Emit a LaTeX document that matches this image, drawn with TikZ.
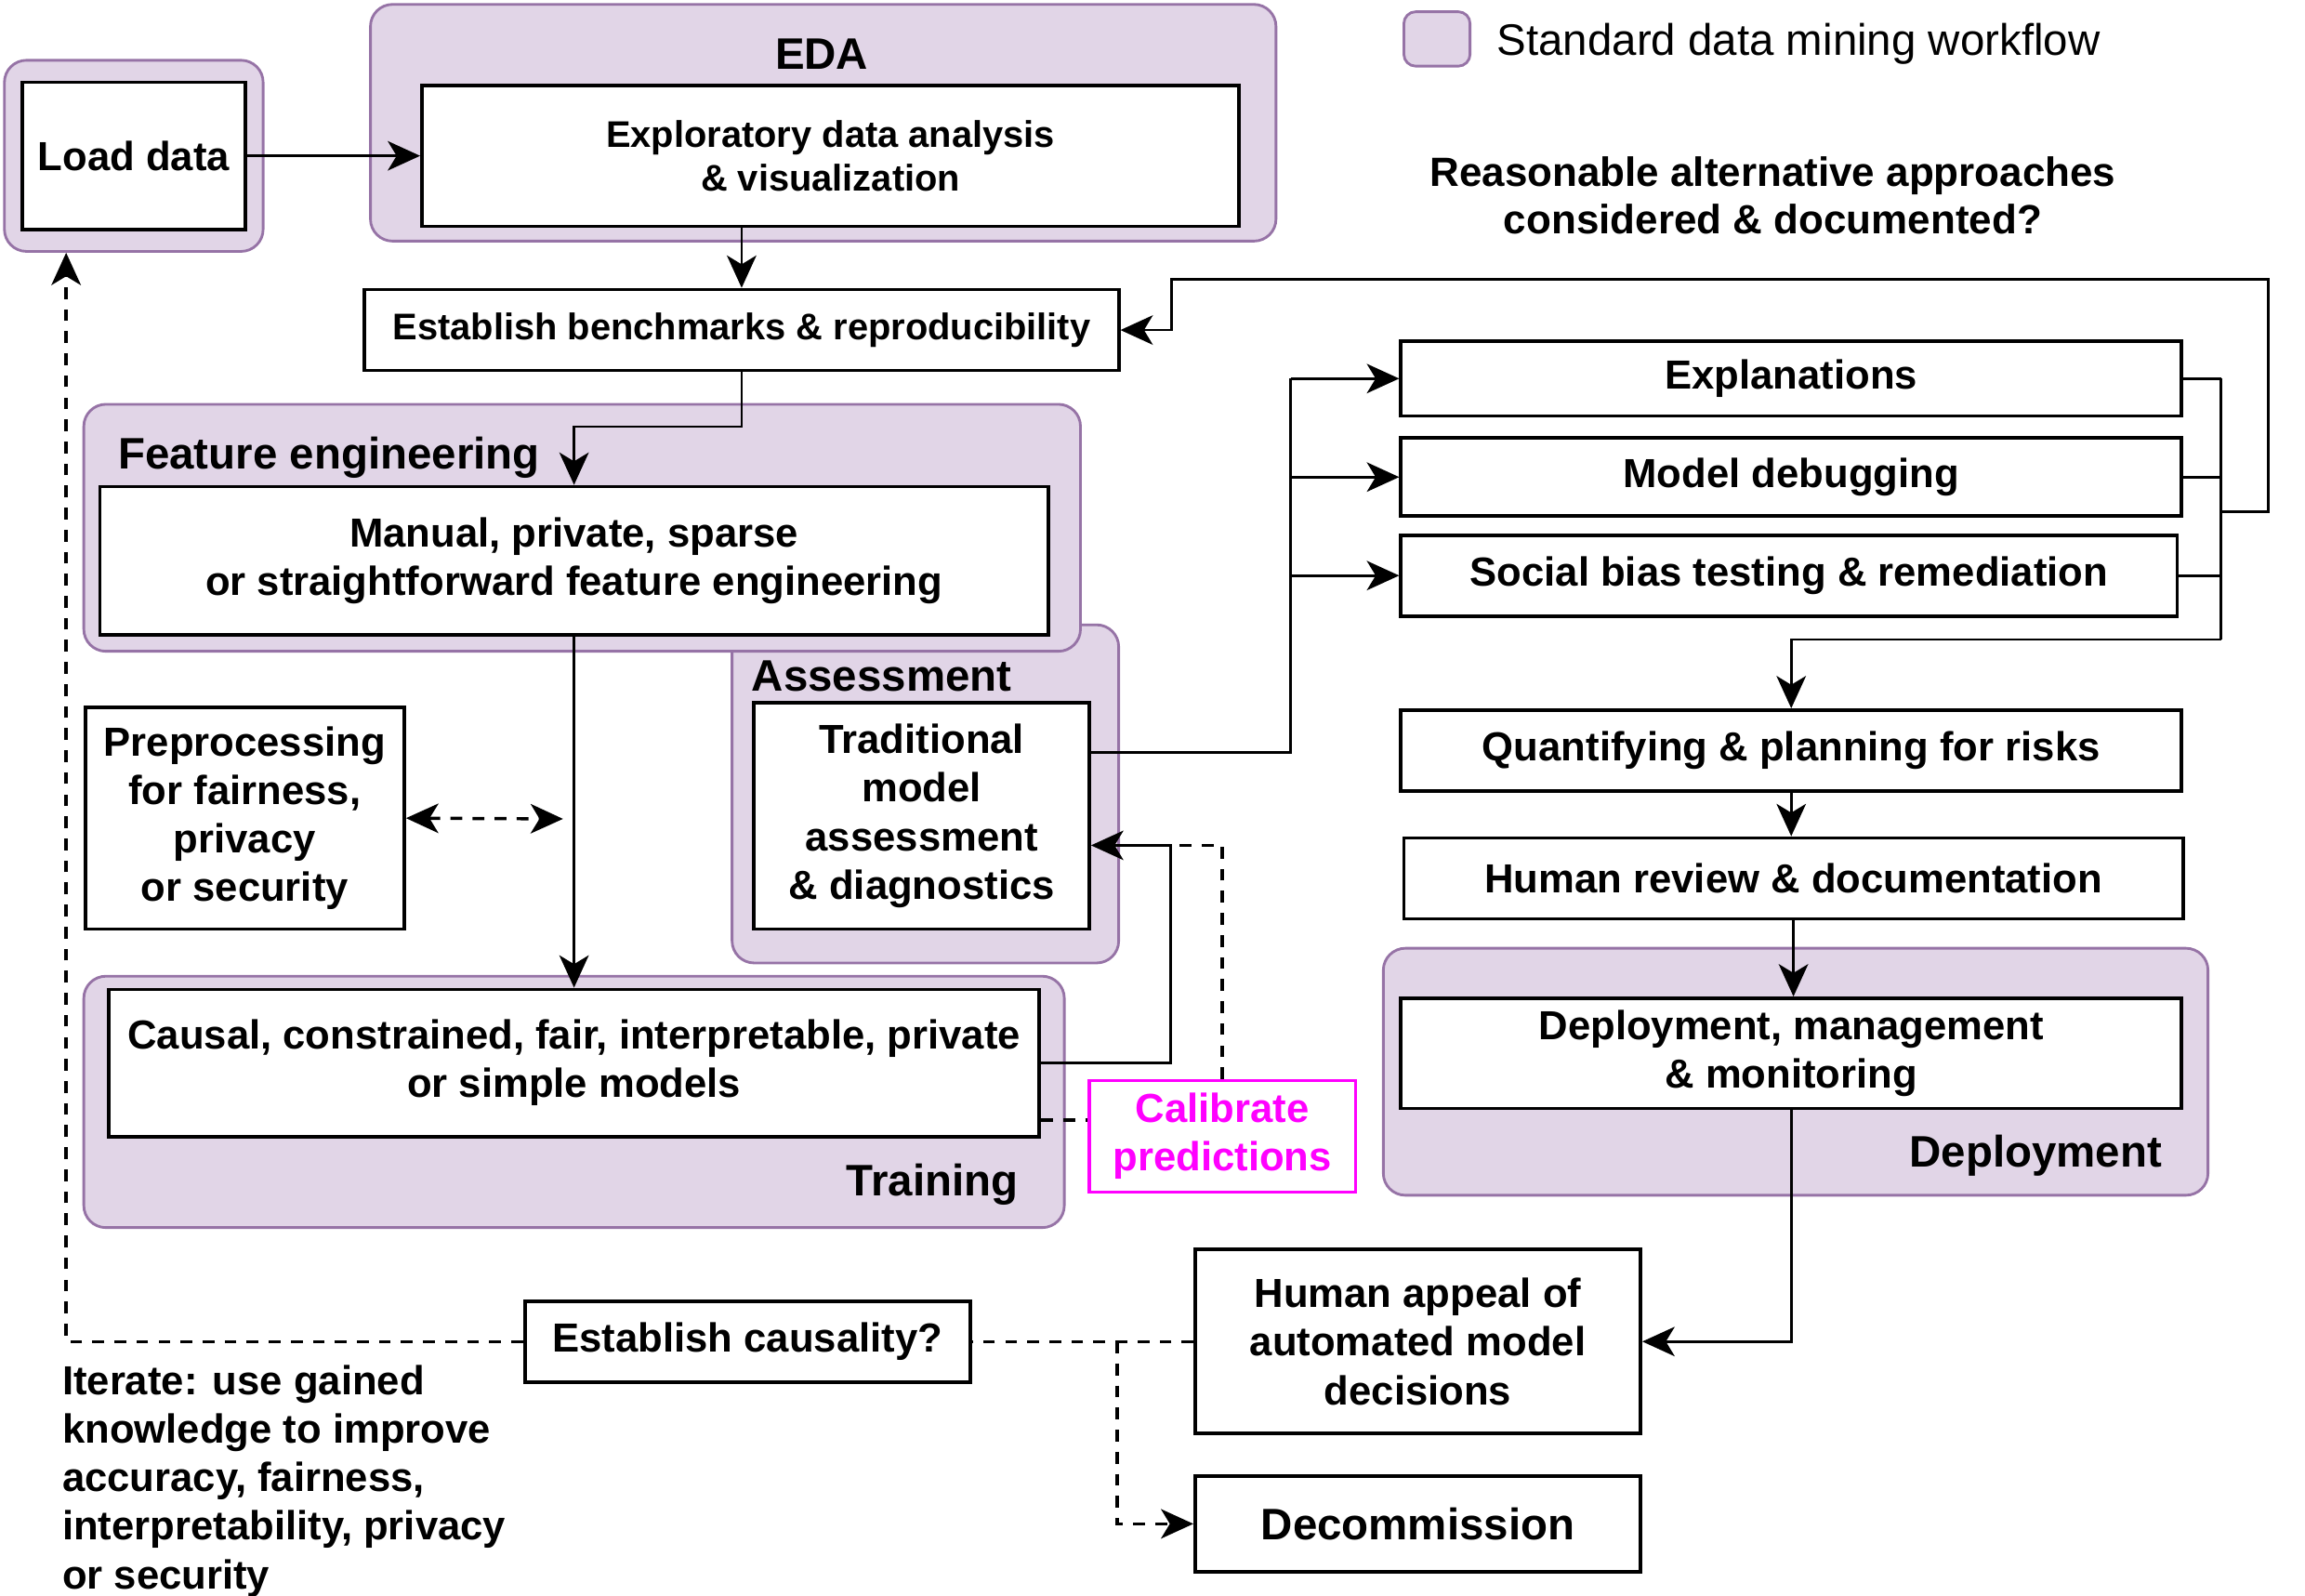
\documentclass[tikz,border=0pt]{standalone}
\usepackage{fontspec}
\setmainfont{Liberation Sans}
\usetikzlibrary{arrows.meta}
\definecolor{grpfill}{HTML}{E1D5E7}
\definecolor{grpline}{HTML}{9673A6}
\definecolor{calibcol}{HTML}{FF00FF}
\newcommand{\boxfont}{\fontsize{13.8}{16.5}\selectfont\bfseries}
\newcommand{\smallboxfont}{\fontsize{12.6}{15}\selectfont\bfseries}
\newcommand{\hdrfont}{\fontsize{15}{18}\selectfont\bfseries}
\begin{document}
\begin{tikzpicture}[x=0.5pt,y=-0.5pt,>={Stealth[length=11pt,width=10pt,inset=3pt]}]
	\tikzset{grp/.style={draw=grpline,fill=grpfill,line width=0.9pt,rounded corners=7.5pt,inner sep=0pt},
		box/.style={draw,fill=white,line width=1.2pt,align=center,inner sep=0pt,font=\boxfont},
		hdr/.style={font=\hdrfont,inner sep=0pt},
		conn/.style={line width=0.9pt},
		arr/.style={conn,->},
		dsh/.style={line width=1.1pt,dash pattern=on 4pt off 3.5pt}}
	\useasboundingbox (0,0) rectangle (1568,1085);
	\node[grp,minimum width=88pt,minimum height=65pt] (gLoad) at (91,106) {};
	\node[grp,minimum width=308pt,minimum height=80.5pt] (gEDA) at (560,83.5) {};
	\node[grp,minimum width=131.5pt,minimum height=115pt] (gAssess) at (629.5,540) {};
	\node[grp,minimum width=339pt,minimum height=84pt] (gFeat) at (396,359) {};
	\node[grp,minimum width=333.5pt,minimum height=85.5pt] (gTrain) at (390.5,749.5) {};
	\node[grp,minimum width=280.5pt,minimum height=84pt] (gDeploy) at (1221.5,729) {};
	\node[grp,rounded corners=4pt,minimum width=22.5pt,minimum height=18.5pt] (key) at (977.5,26.5) {};
	\node[hdr] (lEDA) at (559,37) {EDA};
	\node[hdr,anchor=west] (lFeat) at (80,311) {Feature engineering};
	\node[hdr,anchor=west] (lAssess) at (511,460) {Assessment};
	\node[hdr,anchor=east] (lTrain) at (693,806) {Training};
	\node[hdr,anchor=east] (lDeploy) at (1471,786) {Deployment};
	\node[anchor=west,inner sep=0pt,font=\fontsize{15}{18}\selectfont] (lKey) at (1018,30) {Standard data mining workflow};
	\node[align=center,inner sep=0pt,font=\fontsize{13.9}{16}\selectfont\bfseries] (ask) at (1206,133) {Reasonable alternative approaches\\considered \& documented?};
	\node[align=left,anchor=west,inner sep=0pt,font=\boxfont] (iter) at (42,1007.5) {Iterate: use gained\\knowledge to improve\\accuracy, fairness,\\interpretability, privacy\\or security};
	\node[box,minimum width=76pt,minimum height=50pt] (load) at (91,106) {Load data};
	\node[box,font=\smallboxfont,minimum width=278pt,minimum height=48pt] (eda) at (565,106) {Exploratory data analysis\\\& visualization};
	\node[box,font=\smallboxfont,minimum width=256.5pt,minimum height=27.5pt] (bench) at (504.5,224.5) {Establish benchmarks \& reproducibility};
	\node[box,minimum width=322.5pt,minimum height=50.5pt] (manual) at (390.5,381.5) {Manual, private, sparse\\or straightforward feature engineering};
	\node[box,minimum width=108.5pt,minimum height=75.5pt] (prep) at (166.5,556.5) {Preprocessing\\for fairness,\\privacy\\or security};
	\node[box,minimum width=114pt,minimum height=77pt] (trad) at (627,555) {Traditional\\model\\assessment\\\& diagnostics};
	\node[box,minimum width=316.5pt,minimum height=50pt] (causal) at (390.5,723) {Causal, constrained, fair, interpretable, private\\or simple models};
	\node[box,draw=calibcol,text=calibcol,line width=1pt,minimum width=90.5pt,minimum height=38pt] (calib) at (831.5,773) {Calibrate\\predictions};
	\node[box,minimum width=265.5pt,minimum height=25.5pt] (expl) at (1218.5,257.5) {Explanations};
	\node[box,minimum width=265.5pt,minimum height=26.5pt] (debug) at (1218.5,324.5) {Model debugging};
	\node[box,minimum width=264pt,minimum height=27.5pt] (bias) at (1217,391.5) {Social bias testing \& remediation};
	\node[box,minimum width=265.5pt,minimum height=27.5pt] (risk) at (1218.5,510.5) {Quantifying \& planning for risks};
	\node[box,minimum width=265pt,minimum height=27.5pt] (review) at (1220,597.5) {Human review \& documentation};
	\node[box,minimum width=265.5pt,minimum height=37.5pt] (deploy) at (1218.5,716.5) {Deployment, management\\\& monitoring};
	\node[box,minimum width=151.5pt,minimum height=62.5pt] (appeal) at (964.5,912.5) {Human appeal of\\automated model\\decisions};
	\node[box,font=\hdrfont,minimum width=151.5pt,minimum height=32.5pt] (decom) at (964.5,1036.5) {Decommission};
	\node[box,minimum width=151.5pt,minimum height=27.5pt] (causality) at (508.5,912.5) {Establish causality?};
	\coordinate (pp) at (383,557);
	\coordinate (cj) at (795,575);
	\coordinate (lbus) at (878,0);
	\coordinate (rbus) at (1511,0);
	\coordinate (rmid) at (1511,348);
	\coordinate (rlow) at (1511,435);
	\coordinate (split) at (760,912.5);
	\coordinate (back) at (45,0);
	\draw[arr] (load) -- (eda);
	\draw[arr] (bench.north |- eda.south) -- (bench.north);
	\draw[arr] (bench.south) -- ++(0,37) -| (manual.north);
	\draw[arr] (manual) -- (causal);
	\draw[dsh,<->] (prep.east) -- (pp);
	\draw[arr] (causal.east) -- ++(88,0) |- ([yshift=-10pt]trad.east);
	\draw[dsh] (calib.north) |- (cj);
	\draw[dsh] ([yshift=-19.5pt]causal.east) -- ([yshift=-19.5pt]causal.east -| calib.west);
	\draw[conn] ([yshift=21.5pt]trad.east) -| (lbus |- expl.west);
	\foreach \n in {expl,debug,bias} \draw[arr] (lbus |- \n.west) -- (\n.west);
	\foreach \n in {expl,debug,bias} \draw[conn] (\n.east) -- (rbus |- \n.east);
	\draw[conn] (rbus |- expl.east) -- (rlow);
	\draw[arr] (rmid) -- ++(32,0) |- (797,190) |- (bench.east);
	\draw[arr] (rlow) -| (risk.north);
	\draw[arr] (risk.south) -- (risk.south |- review.north);
	\draw[arr] (review.south) -- (review.south |- deploy.north);
	\draw[arr] (deploy.south) |- (appeal.east);
	\draw[dsh] (appeal.west) -- (causality.east);
	\draw[dsh,->] (split) |- (decom.west);
	\draw[dsh,->] (causality.west) -| (back |- gLoad.south);
\end{tikzpicture}
\end{document}
